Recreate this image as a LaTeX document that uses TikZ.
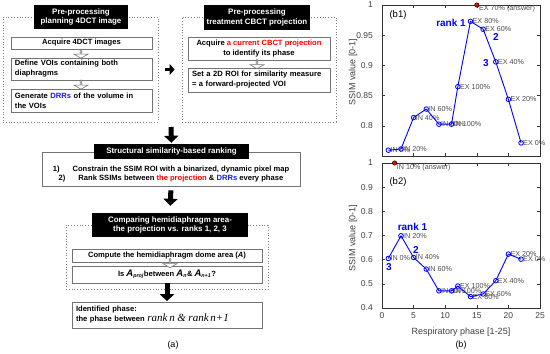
\documentclass[tikz,border=0pt]{standalone}
\usepackage{fontspec}
\setmainfont{Liberation Sans}
\newfontfamily\timesit{Liberation Serif}
\usetikzlibrary{arrows.meta,shapes.arrows}

\begin{document}
\begin{tikzpicture}[x=1pt,y=-1pt,
    every node/.style={inner sep=0pt},
    stepbox/.style={draw=black!55, line width=0.7pt, fill=white, inner xsep=4pt,
      font=\bfseries\fontsize{7.6}{10}\selectfont},
    dotbox/.style={draw=black!50, dotted, line width=0.8pt},
    header/.style={fill=black, text=white, align=center,
      font=\bfseries\fontsize{7.9}{9.6}\selectfont},
    block/.style={line width=5pt, -{Triangle[width=14pt,length=7pt]}},
    hollow/.style={shape=single arrow, rotate=-90, draw=black!55, fill=white, line width=0.6pt,
      minimum height=9pt, minimum width=14pt, single arrow head extend=2.5pt,
      single arrow tip angle=120},
    axisline/.style={draw=black!80, line width=0.5pt},
    ticklbl/.style={text=black!75, font=\fontsize{8.5}{9}\selectfont},
    axlbl/.style={text=black!75, font=\fontsize{9}{10}\selectfont},
    datalbl/.style={anchor=west, xshift=2pt, text=black!70, font=\fontsize{7.2}{8}\selectfont},
    dataline/.style={draw=plotblue, line width=0.9pt, line join=round},
    datamark/.style={draw=plotblue, line width=0.8pt},
    answer/.style={draw=black, fill=red, line width=0.5pt},
    rankfont/.style={text=plotblue, font=\bfseries\fontsize{10}{11}\selectfont},
    capfont/.style={font=\fontsize{9}{10}\selectfont}]
  \colorlet{drrblue}{blue!90!white}
  \colorlet{projred}{red}
  \colorlet{plotblue}{blue}
  \def\Aof#1{{\fontsize{9.5}{9}\selectfont\itshape A}\textsubscript{\itshape #1}}

  \useasboundingbox (0,0) rectangle (550,354);

  %--- Pre-processing: planning 4DCT ---
  \node[dotbox, minimum width=155, minimum height=105] (plan) at (80.5,69.5) {};
  \node[header, minimum width=94, minimum height=24] (planhead) at (81,17)
    {Pre-processing\\planning 4DCT image};
  \node[stepbox, minimum width=141, minimum height=12] (acq4d) at (81.5,43)
    {Acquire 4DCT images};
  \node[stepbox, minimum height=22, text width=133, align=left] (defvoi) at (81.5,69)
    {Define VOIs containing both\\diaphragms};
  \node[stepbox, minimum height=23, text width=133, align=left] (gendrr) at (81.5,100.5)
    {Generate \textcolor{drrblue}{DRRs} of the volume in\\the VOIs};
  \node[hollow] (h1) at (81,53.5) {};
  \node[hollow] (h2) at (81,84.5) {};

  %--- Pre-processing: treatment CBCT ---
  \node[dotbox, minimum width=154, minimum height=105] (treat) at (259,69.5) {};
  \node[header, minimum width=106, minimum height=25] (treathead) at (257,17.5)
    {Pre-processing\\treatment CBCT projection};
  \node[stepbox, minimum width=142, minimum height=23, align=center] (acqcbct) at (259,48.5)
    {Acquire \textcolor{projred}{a current CBCT projection}\\to identify its phase};
  \node[stepbox, minimum height=24, text width=134, align=left] (setroi) at (259,80)
    {Set a 2D ROI for similarity measure\\= a forward-projected VOI};
  \node[hollow] (h3) at (257,64) {};

  \draw[block, line width=3.5pt, -{Triangle[width=11pt,length=5pt]},
    shorten <=7pt, shorten >=7pt] (plan.east) -- (treat.west);

  %--- Structural similarity-based ranking ---
  \coordinate (split) at (171,127);
  \node[stepbox, minimum width=258, minimum height=34] (rank) at (171,169) {};
  \node[header, minimum width=155, minimum height=15] (rankhead) at (171.5,151.5)
    {Structural similarity-based ranking};
  \node[align=center, font=\bfseries\fontsize{7.6}{9}\selectfont] (ranktxt) at (171,174)
    {1)\hspace{13pt}Constrain the SSIM ROI with a binarized, dynamic pixel map\\
     2)\hspace{13pt}Rank SSIMs between \textcolor{projred}{the projection} \&
     \textcolor{drrblue}{DRRs} every phase};
  \draw[block, shorten >=1pt] (split) -- (rankhead.north);

  %--- Comparing hemidiaphragm area ---
  \node[dotbox, minimum width=202, minimum height=64] (comp) at (167,257) {};
  \node[header, minimum width=156, minimum height=24] (comphead) at (170,225)
    {Comparing hemidiaphragm area-\\the projection vs. ranks 1, 2, 3};
  \draw[block, shorten <=4pt, shorten >=7pt] (rank.south) -- (comphead.north);
  \node[stepbox, minimum width=190, minimum height=13] (dome) at (167,255.5)
    {Compute the hemidiaphragm dome area (\textit{A})};
  \node[stepbox, minimum width=190, minimum height=17] (test) at (167,274.5)
    {Is \Aof{proj}between \Aof{n}\& \Aof{n+1}?};
  \node[hollow] (h4) at (170,263) {};
  \node[stepbox, minimum height=26, text width=182, align=left] (ident) at (167,315)
    {Identified phase:\\the phase between
     {\timesit\mdseries\itshape\fontsize{11}{10}\selectfont rank\,n \& rank\,n+1}};
  \draw[block, shorten >=0.5pt] (test.south) -- (ident.north);
  \node[capfont] (capa) at (173,345) {(a)};

  %--- (b1) SSIM value vs respiratory phase ---
  \begin{scope}[xshift=382pt, yshift=-610pt, x=6.32pt, y=605pt]
    \draw[axisline] (0,0.75) rectangle (25,1);
    \foreach \t in {0,5,...,25} {
      \draw[axisline] (\t,0.75) -- ++(0,3pt);
      \draw[axisline] (\t,1) -- ++(0,-3pt);
    }
    \foreach \v [count=\k] in {0.8,0.85,0.9,0.95,1} {
      \draw[axisline] (0,\v) -- ++(3pt,0);
      \draw[axisline] (25,\v) -- ++(-3pt,0);
      \node[ticklbl, anchor=east, xshift=-9pt] (ya\k) at (0,\v) {\v};
    }
    \foreach \p/\v/\t [count=\i] in {1/0.760/IN 0\%, 3/0.762/IN 20\%, 5/0.814/IN 40\%,
        7/0.828/IN 60\%, 9/0.803/IN 80\%, 11/0.803/IN 100\%, 12/0.865/EX 100\%,
        14/0.973/EX 80\%, 16/0.960/EX 60\%, 18/0.906/EX 40\%, 20/0.844/EX 20\%,
        22/0.772/EX 0\%} {
      \coordinate (a\i) at (\p,\v);
      \node[datalbl] (la\i) at (a\i) {\t};
    }
    \draw[dataline] (a1) \foreach \i in {2,...,12} { -- (a\i) };
    \foreach \i in {1,...,12} \draw[datamark] (a\i) circle (2.3pt);
    \coordinate (ansa) at (15,1);
    \draw[answer] (ansa) circle (2.2pt);
    \node[datalbl, yshift=-3.5pt] (ansalbl) at (ansa) {EX 70\% (answer)};
  \end{scope}

  %--- (b2) SSIM value vs respiratory phase ---
  \begin{scope}[xshift=382pt, yshift=-404.7pt, x=6.32pt, y=241.7pt]
    \draw[axisline] (0,0.4) rectangle (25,1);
    \foreach \t in {0,5,...,25} {
      \draw[axisline] (\t,0.4) -- ++(0,3pt);
      \draw[axisline] (\t,1) -- ++(0,-3pt);
      \node[ticklbl, anchor=north, yshift=-4pt] (xb\t) at (\t,0.4) {\t};
    }
    \foreach \v [count=\k] in {0.4,0.5,0.6,0.7,0.8,0.9,1} {
      \draw[axisline] (0,\v) -- ++(3pt,0);
      \draw[axisline] (25,\v) -- ++(-3pt,0);
      \node[ticklbl, anchor=east, xshift=-9pt] (yb\k) at (0,\v) {\v};
    }
    \foreach \p/\v/\t [count=\i] in {1/0.605/IN 0\%, 3/0.699/IN 20\%, 5/0.609/IN 40\%,
        7/0.561/IN 60\%, 9/0.471/IN 80\%, 11/0.471/IN 100\%, 12/0.491/EX 100\%,
        14/0.447/EX 80\%, 16/0.458/EX 60\%, 18/0.513/EX 40\%, 20/0.623/EX 20\%,
        22/0.602/EX 0\%} {
      \coordinate (b\i) at (\p,\v);
      \node[datalbl] (lb\i) at (b\i) {\t};
    }
    \draw[dataline] (b1) \foreach \i in {2,...,12} { -- (b\i) };
    \foreach \i in {1,...,12} \draw[datamark] (b\i) circle (2.3pt);
    \coordinate (ansb) at (2,1);
    \draw[answer] (ansb) circle (2.2pt);
    \node[datalbl, yshift=-4.5pt] (ansblbl) at (ansb) {IN 10\% (answer)};
  \end{scope}

  %--- axis labels and rank marks ---
  \node[axlbl, rotate=90] (ylab1) at (353,72) {SSIM value [0-1]};
  \node[axlbl, rotate=90] (ylab2) at (353,238) {SSIM value [0-1]};
  \node[axlbl] (xlab) at (461,332) {Respiratory phase [1-25]};
  \node[capfont] (capb) at (461,345) {(b)};
  \node[font=\fontsize{9.5}{10}\selectfont] (pb1) at (398,15) {(b1)};
  \node[font=\fontsize{9.5}{10}\selectfont] (pb2) at (398,182) {(b2)};
  \node[rankfont] (r1a) at (451,23) {rank 1};
  \node[rankfont] (r2a) at (496,37) {2};
  \node[rankfont] (r3a) at (486,63) {3};
  \node[rankfont] (r1b) at (412.5,227) {rank 1};
  \node[rankfont] (r2b) at (416,250) {2};
  \node[rankfont] (r3b) at (389,267.5) {3};

\end{tikzpicture}
\end{document}
